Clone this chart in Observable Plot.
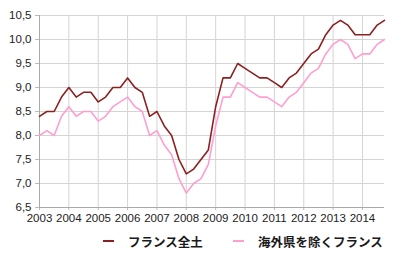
<!DOCTYPE html>
<html><head><meta charset="utf-8">
<script src="https://cdn.jsdelivr.net/npm/d3@7"></script>
<script src="https://cdn.jsdelivr.net/npm/@observablehq/plot@0.6"></script>
<style>
body{margin:0;background:#fff;font-family:"Liberation Sans",Arial,sans-serif;}
#chart{position:relative;width:400px;height:255px;}
.legend{position:absolute;top:231px;left:0;width:400px;height:20px;font-family:"Noto Sans CJK JP",sans-serif;font-size:12.5px;font-weight:bold;color:#1a1a1a;}
.legend .item{position:absolute;top:0;display:flex;align-items:center;height:20px;}
.legend svg{margin-right:14px;}
</style></head>
<body><div id="chart"></div>
<script>
const seriesNames = ["フランス全土", "海外県を除くフランス"];
const colors = ["#8b2020", "#ff9fcf"];
const years = [2003,2004,2005,2006,2007,2008,2009,2010,2011,2012,2013,2014];
const yTicks = [6.5,7.0,7.5,8.0,8.5,9.0,9.5,10.0,10.5];
const franceTotal = [
 8.4,8.5,8.5,8.8, 9.0,8.8,8.9,8.9, 8.7,8.8,9.0,9.0, 9.2,9.0,8.9,8.4,
 8.5,8.2,8.0,7.5, 7.2,7.3,7.5,7.7, 8.6,9.2,9.2,9.5, 9.4,9.3,9.2,9.2,
 9.1,9.0,9.2,9.3, 9.5,9.7,9.8,10.1, 10.3,10.4,10.3,10.1, 10.1,10.1,10.3,10.4];
const franceMetro = [
 8.0,8.1,8.0,8.4, 8.6,8.4,8.5,8.5, 8.3,8.4,8.6,8.7, 8.8,8.6,8.5,8.0,
 8.1,7.8,7.6,7.1, 6.8,7.0,7.1,7.4, 8.2,8.8,8.8,9.1, 9.0,8.9,8.8,8.8,
 8.7,8.6,8.8,8.9, 9.1,9.3,9.4,9.7, 9.9,10.0,9.9,9.6, 9.7,9.7,9.9,10.0];

const rows = [];
[franceTotal, franceMetro].forEach((arr, s) => arr.forEach((v, i) => rows.push({t: 2003 + i/4, v, s: seriesNames[s]})));
const fmt = d => d.toFixed(1).replace(".", ",");

const plot = Plot.plot({
  width: 400, height: 230,
  marginTop: 15, marginBottom: 23, marginLeft: 39, marginRight: 16,
  style: {fontFamily: "'Liberation Sans', Arial, sans-serif", fontSize: "11.5px", color: "#222", background: "transparent"},
  x: {domain: [2003, 2014.75], label: null},
  y: {domain: [6.5, 10.5], label: null},
  color: {domain: seriesNames, range: colors},
  marks: [
    Plot.gridX(years, {stroke: "#d4d4d4", strokeOpacity: 1, strokeWidth: 1}),
    Plot.gridY(yTicks, {stroke: "#d4d4d4", strokeOpacity: 1, strokeWidth: 1}),
    Plot.axisX({ticks: years, tickFormat: d => String(d), tickSize: 3, tickPadding: 3, stroke: "#bbb", fill: "#222"}),
    Plot.axisY({ticks: yTicks, tickFormat: fmt, tickSize: 4, tickPadding: 4, stroke: "#bbb", fill: "#222"}),
    Plot.ruleY([6.5], {stroke: "#aaa"}),
    Plot.ruleX([2003], {stroke: "#aaa"}),
    Plot.line(rows, {x: "t", y: "v", z: "s", stroke: "s", strokeWidth: 1.6, curve: "linear"})
  ]
});
const chart = document.getElementById("chart");
chart.appendChild(plot);

const legend = document.createElement("div");
legend.className = "legend";
const lefts = [103, 233];
seriesNames.forEach((name, i) => {
  const it = document.createElement("div");
  it.className = "item";
  it.style.left = lefts[i] + "px";
  it.innerHTML = `<svg width="11" height="4"><line x1="0" x2="11" y1="2" y2="2" stroke="${colors[i]}" stroke-width="2"/></svg><span>${name}</span>`;
  legend.appendChild(it);
});
chart.appendChild(legend);
</script></body></html>
